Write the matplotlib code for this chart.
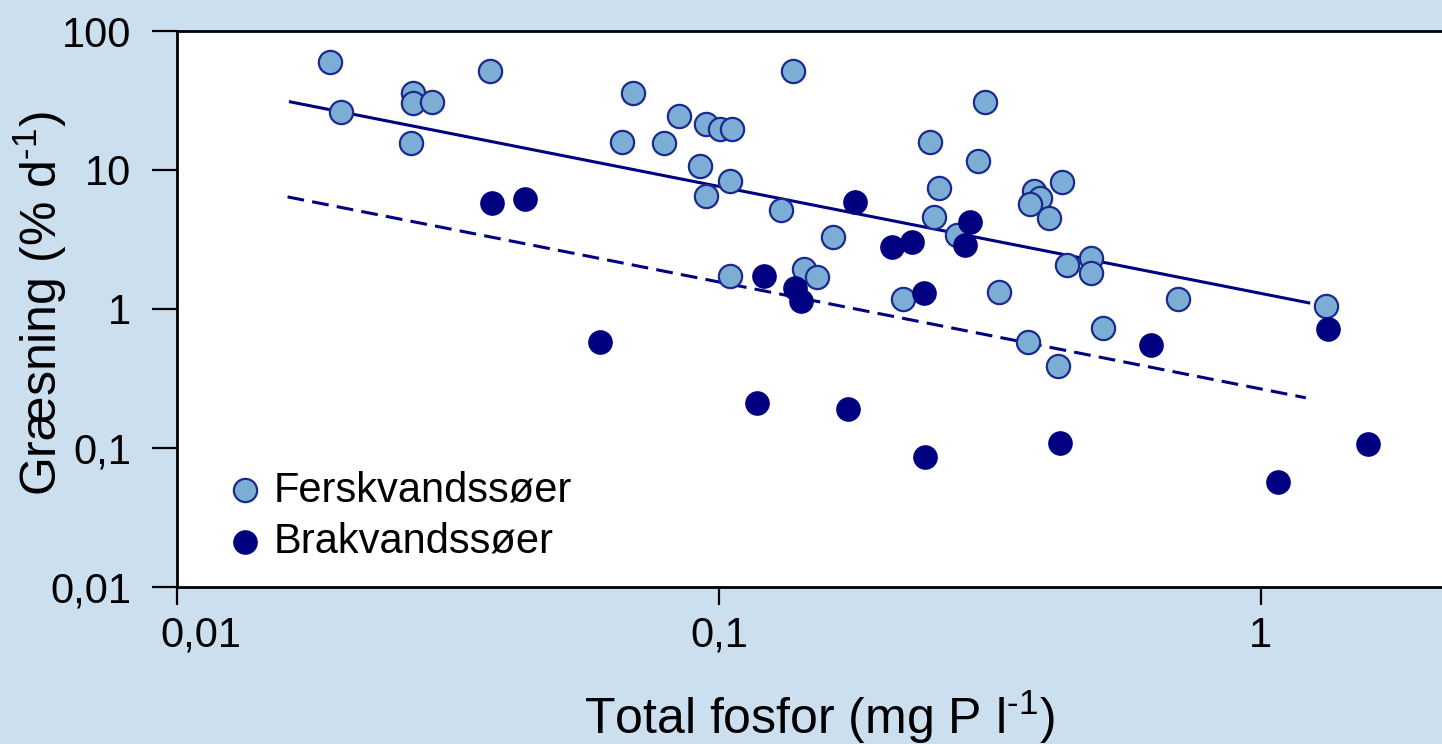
import matplotlib
matplotlib.use('Agg')
import matplotlib.pyplot as plt
from matplotlib.ticker import FixedLocator, NullLocator
from matplotlib.transforms import ScaledTranslation

plt.rcParams['font.family'] = ['Liberation Sans', 'DejaVu Sans']
plt.rcParams['mathtext.fontset'] = 'custom'
plt.rcParams['mathtext.rm'] = 'Liberation Sans'
plt.rcParams['mathtext.it'] = 'Liberation Sans'

# freshwater lakes (Ferskvandssøer): total P (mg P/l) and grazing (% per day)
fresh_tp = [0.0192, 0.0201, 0.0273, 0.0273, 0.0295, 0.0270, 0.0378, 0.0694,
            0.0662, 0.0791, 0.0844, 0.0946, 0.1004, 0.1056, 0.0922, 0.1048,
            0.0946, 0.1369, 0.1301, 0.1623, 0.2451, 0.3096, 0.3006, 0.2546,
            0.2493, 0.2749, 0.4294, 0.3811, 0.3910, 0.3748, 0.4064, 0.1048,
            0.1435, 0.1517, 0.2185, 0.3285, 0.4386, 0.4857, 0.4857, 0.7030,
            1.318, 0.5110, 0.3717, 0.4222]
fresh_graz = [60.0, 26.2, 35.9, 30.4, 30.9, 15.7, 51.7, 35.9,
              15.9, 15.7, 24.5, 21.5, 19.8, 19.8, 10.7, 8.35,
              6.51, 51.7, 5.16, 3.30, 15.9, 30.9, 11.6, 7.43,
              4.60, 3.41, 8.21, 7.07, 6.30, 5.70, 4.52, 1.73,
              1.94, 1.70, 1.18, 1.33, 2.07, 2.33, 1.82, 1.18,
              1.05, 0.730, 0.579, 0.389]

# brackish lakes (Brakvandssøer)
brack_tp = [0.0381, 0.0439, 0.0603, 0.1175, 0.1211, 0.1381, 0.1417, 0.1730,
            0.1782, 0.2086, 0.2270, 0.2389, 0.2399, 0.2843, 0.2904, 0.4258,
            0.6266, 1.075, 1.329, 1.576]
brack_graz = [5.80, 6.19, 0.579, 0.2105, 1.73, 1.42, 1.14, 0.1906,
              5.89, 2.80, 3.04, 1.30, 0.0860, 2.89, 4.23, 0.1085,
              0.551, 0.0568, 0.718, 0.1067]

# regression lines (end points)
fit_tp = [0.0162, 1.226]
fit_fresh = [30.9, 1.105]
fit_tp_b = [0.0160, 1.211]
fit_brack = [6.40, 0.229]

x_ticks = [0.01, 0.1, 1]
x_labels = ['0,01', '0,1', '1']
y_ticks = [0.01, 0.1, 1, 10, 100]
y_labels = ['0,01', '0,1', '1', '10', '100']

BG = '#cbdfef'
NAVY = '#000080'
LIGHT = '#7badd5'
EDGE = '#1b2a8f'

fig = plt.figure(figsize=(14.42, 7.44), dpi=100, facecolor=BG)
ax = fig.add_axes([0.1227, 0.2114, 0.8773, 0.7469])
ax.set_facecolor('white')

ax.plot(fit_tp, fit_fresh, color=NAVY, lw=2.2, zorder=2)
ax.plot(fit_tp_b, fit_brack, color=NAVY, lw=2.2, dashes=(5.5, 2.7), zorder=2)

ax.scatter(fresh_tp, fresh_graz, s=280, color=LIGHT, edgecolors=EDGE,
           linewidths=1.6, zorder=3, label='Ferskvandssøer')
ax.scatter(brack_tp, brack_graz, s=280, color=NAVY, edgecolors=NAVY,
           linewidths=1.0, zorder=4, label='Brakvandssøer')

ax.set_xscale('log')
ax.set_yscale('log')
ax.set_xlim(0.01, 2.16)
ax.set_ylim(0.01, 100)

ax.xaxis.set_major_locator(FixedLocator(x_ticks))
ax.xaxis.set_minor_locator(NullLocator())
ax.set_xticklabels(x_labels)
ax.yaxis.set_major_locator(FixedLocator(y_ticks))
ax.yaxis.set_minor_locator(NullLocator())
ax.set_yticklabels(y_labels)

ax.spines['right'].set_visible(False)
for s in ['left', 'bottom', 'top']:
    ax.spines[s].set_linewidth(2.0)
ax.tick_params(axis='y', direction='out', length=18, width=1.6,
               labelsize=30, pad=15)
ax.tick_params(axis='x', direction='out', length=13, width=1.6,
               labelsize=30, pad=8)

# the first x label is nudged right so it clears the y label "0,01"
lab0 = ax.get_xticklabels()[0]
lab0.set_transform(lab0.get_transform() +
                   ScaledTranslation(24 / 100, 0, fig.dpi_scale_trans))

ax.set_xlabel('Total fosfor (mg P l$^{\\text{-}1}$)', fontsize=36)
ax.xaxis.set_label_coords(0.508, -0.183)
ax.set_ylabel('Græsning (% d$^{\\text{-}1}$)', fontsize=36)
ax.yaxis.set_label_coords(-0.085, 0.51)

ax.legend(loc='upper left', bbox_to_anchor=(0.034, 0.21), frameon=False,
          fontsize=30, handletextpad=0.1, handlelength=1.2,
          labelspacing=0.28, borderpad=0, borderaxespad=0)

fig.savefig('out.png', dpi=100, facecolor=BG)
